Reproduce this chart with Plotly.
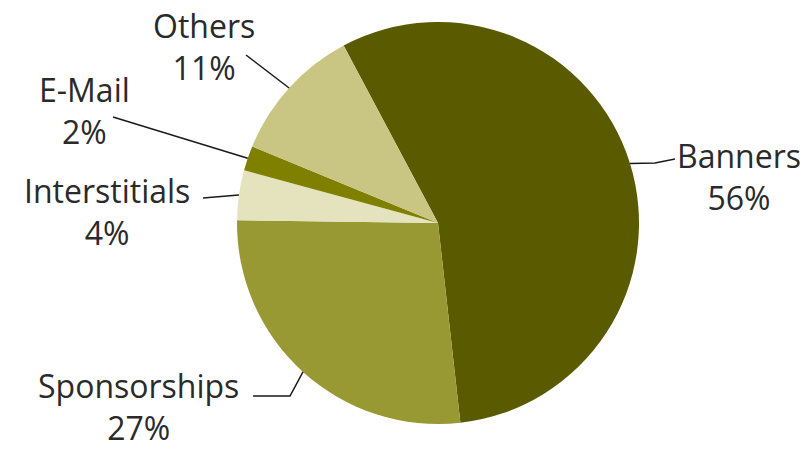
import math
import plotly.graph_objects as go

# ---- data ----
categories = ["Banners", "Sponsorships", "Interstitials", "E-Mail", "Others"]
shares = [56, 27, 4, 2, 11]
colors = ["#5a5a00", "#999933", "#e5e3bd", "#808000", "#c8c682"]

# ---- layout (pixels) ----
W, H = 811, 450
CX, CY, R = 438, 223, 201
START = -28  # degrees, clockwise from 12 o'clock

# label block centers (pixels) and leader-line start points (pixels, optional elbow)
label_pos = {
    "Banners": (739, 176),
    "Sponsorships": (138, 406),
    "Interstitials": (107, 212),
    "E-Mail": (84, 110),
    "Others": (204, 46),
}
leader_pts = {
    "Banners": [(675, 159), (655, 163)],
    "Sponsorships": [(253, 396), (290, 396)],
    "Interstitials": [(203, 198)],
    "E-Mail": [(113, 117)],
    "Others": [(246, 55)],
}


def px(x):
    return x / W


def py(y):
    return 1 - y / H


fig = go.Figure(
    go.Pie(
        labels=categories,
        values=shares,
        sort=False,
        direction="clockwise",
        rotation=START,
        marker=dict(colors=colors, line=dict(width=0)),
        textinfo="none",
        hoverinfo="label+percent",
        domain=dict(x=[px(CX - R), px(CX + R)], y=[py(CY + R), py(CY - R)]),
        showlegend=False,
    )
)

total = sum(shares)
acc = 0
shapes = []
annotations = []
for cat, v in zip(categories, shares):
    mid = START + (acc + v / 2) / total * 360
    acc += v
    th = math.radians(mid)
    ex, ey = CX + R * math.sin(th), CY - R * math.cos(th)
    pts = leader_pts[cat] + [(ex, ey)]
    path = "M " + " L ".join(f"{px(x):.5f},{py(y):.5f}" for x, y in pts)
    shapes.append(dict(type="path", xref="paper", yref="paper", path=path,
                       line=dict(color="#1a1a1a", width=1.5)))
    lx, ly = label_pos[cat]
    annotations.append(dict(
        x=px(lx), y=py(ly), xref="paper", yref="paper",
        text=f"{cat}<br>{v}%", showarrow=False, align="center",
        xanchor="center", yanchor="middle", borderpad=0,
        font=dict(family="'Open Sans', sans-serif", size=32, color="#2a2a2a"),
    ))

fig.update_layout(
    width=W, height=H,
    margin=dict(l=0, r=0, t=0, b=0),
    paper_bgcolor="white",
    plot_bgcolor="white",
    shapes=shapes,
    annotations=annotations,
)

fig.write_html("out.html")
